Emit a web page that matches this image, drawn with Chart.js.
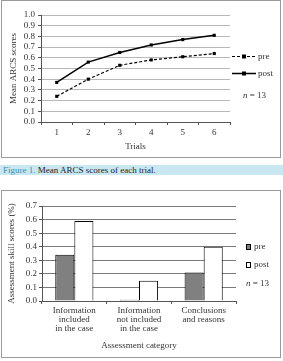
<!DOCTYPE html>
<html><head><meta charset="utf-8">
<script src="https://cdn.jsdelivr.net/npm/chart.js@4.4.1/dist/chart.umd.min.js"></script>
<style>
html,body{margin:0;padding:0;background:#fff;width:283px;height:361px;overflow:hidden;position:relative;font-family:"Liberation Serif","DejaVu Serif",serif;}
.box{position:absolute;left:1px;width:280px;border:1px solid #9a9a9a;box-sizing:border-box;}
#boxA{top:0;height:158px;}
#boxB{top:190px;height:168px;}
canvas{position:absolute;left:0;top:0;}
#cap{position:absolute;left:0;top:165px;width:283px;height:10px;background:#c9e7f0;font-size:9px;line-height:10px;white-space:nowrap;padding-left:3px;box-sizing:border-box;color:#222;}
#cap span{color:#3f8fb0;}
</style></head><body>
<div class="box" id="boxA"><canvas id="c1" width="278" height="156"></canvas></div>
<div id="cap"><span>Figure 1.</span> Mean ARCS scores of each trial.</div>
<div class="box" id="boxB"><canvas id="c2" width="278" height="166"></canvas></div>
<script>
// ---- data ----
const trials = ['1', '2', '3', '4', '5', '6'];
const arcsPre = [0.24, 0.40, 0.53, 0.58, 0.61, 0.64];
const arcsPost = [0.37, 0.56, 0.65, 0.72, 0.77, 0.81];
const categories = [['Information', 'included', 'in the case'], ['Information', 'not included', 'in the case'], ['Conclusions', 'and reasons']];
const skillPre = [0.34, 0.01, 0.21];
const skillPost = [0.59, 0.15, 0.40];
const seriesNames = ['pre', 'post'];
const sampleSize = 13;

const FAM = '"Liberation Serif", "DejaVu Serif", serif';
const TXT = '#333';
const f9 = {family: FAM, size: 9, lineHeight: 1.2};

function drawN(ctx, x, y) {
  ctx.fillStyle = TXT;
  ctx.textBaseline = 'middle';
  ctx.textAlign = 'left';
  ctx.font = 'italic 9px ' + FAM;
  ctx.fillText('n', x, y);
  const w = ctx.measureText('n').width;
  ctx.font = '9px ' + FAM;
  ctx.fillText(' = ' + sampleSize, x + w, y);
}

const lineLegend = {
  id: 'lineLegend',
  afterDraw(chart) {
    const {ctx, chartArea: a} = chart;
    ctx.save();
    chart.data.datasets.forEach((ds, i) => {
      const y = Math.round(a.top + 41 + i * 17) + 0.5;
      const x0 = a.right + 2, x1 = a.right + 26;
      ctx.strokeStyle = '#000';
      ctx.lineWidth = ds.borderWidth;
      ctx.setLineDash(ds.borderDash || []);
      ctx.beginPath(); ctx.moveTo(x0, y); ctx.lineTo(x1, y); ctx.stroke();
      ctx.setLineDash([]);
      ctx.fillStyle = '#000';
      ctx.fillRect((x0 + x1) / 2 - 2, y - 2, 4, 4);
      ctx.fillStyle = TXT;
      ctx.font = '9px ' + FAM;
      ctx.textBaseline = 'middle';
      ctx.fillText(ds.label, x1 + 2, y);
    });
    drawN(ctx, a.right + 13, a.top + 81);
    ctx.restore();
  }
};

const barLegend = {
  id: 'barLegend',
  afterDraw(chart) {
    const {ctx, chartArea: a} = chart;
    ctx.save();
    chart.data.datasets.forEach((ds, i) => {
      const y = Math.round(a.top + 41 + i * 18);
      const x = Math.round(a.right + 10);
      ctx.fillStyle = ds.backgroundColor;
      ctx.fillRect(x, y - 3, 5, 6);
      ctx.strokeStyle = '#000';
      ctx.lineWidth = 1;
      ctx.strokeRect(x + 0.5, y - 2.5, 4, 5);
      ctx.fillStyle = TXT;
      ctx.font = '9px ' + FAM;
      ctx.textBaseline = 'middle';
      ctx.fillText(ds.label, x + 8, y);
    });
    drawN(ctx, a.right + 10, a.top + 78);
    ctx.restore();
  }
};

new Chart(document.getElementById('c1'), {
  type: 'line',
  data: {
    labels: trials,
    datasets: [
      {label: seriesNames[0], data: arcsPre, borderColor: '#000', backgroundColor: '#000', borderWidth: 1.2, borderDash: [3, 2],
       pointStyle: 'rect', pointRadius: 2.2, pointBackgroundColor: '#000', pointBorderWidth: 0, tension: 0},
      {label: seriesNames[1], data: arcsPost, borderColor: '#000', backgroundColor: '#000', borderWidth: 1.5,
       pointStyle: 'rect', pointRadius: 2.2, pointBackgroundColor: '#000', pointBorderWidth: 0, tension: 0}
    ]
  },
  options: {
    responsive: false, animation: false,
    layout: {padding: {top: 14, right: 50, left: 0, bottom: 0}},
    plugins: {legend: {display: false}, tooltip: {enabled: false}},
    scales: {
      x: {
        offset: true,
        grid: {offset: true, drawOnChartArea: false, tickLength: 3, tickColor: '#555'},
        border: {color: '#555'},
        ticks: {padding: 2.6, color: TXT, font: f9},
        title: {display: true, text: 'Trials', color: TXT, font: f9, padding: {top: 0, bottom: 4.6}},
        afterFit(s) { s.height = 35; }
      },
      y: {
        min: 0, max: 1,
        ticks: {stepSize: 0.1, autoSkip: false, padding: 3, color: TXT, font: f9, callback: v => Number(v).toFixed(1)},
        grid: {color: '#b8b8b8', tickColor: '#555', tickLength: 3},
        border: {color: '#555'},
        title: {display: true, text: 'Mean ARCS scores', color: TXT, font: f9, padding: {top: 6.6, bottom: 0}},
        afterFit(s) { s.width = 39; }
      }
    }
  },
  plugins: [lineLegend]
});

new Chart(document.getElementById('c2'), {
  type: 'bar',
  data: {
    labels: categories,
    datasets: [
      {label: seriesNames[0], data: skillPre, backgroundColor: '#808080', borderColor: '#000', borderWidth: 1},
      {label: seriesNames[1], data: skillPost, backgroundColor: '#ffffff', borderColor: '#000', borderWidth: 1}
    ]
  },
  options: {
    responsive: false, animation: false,
    categoryPercentage: 0.59, barPercentage: 1.0,
    layout: {padding: {top: 15, right: 44, left: 0, bottom: 0}},
    plugins: {legend: {display: false}, tooltip: {enabled: false}},
    scales: {
      x: {
        grid: {offset: true, drawOnChartArea: false, tickLength: 3, tickColor: '#555'},
        border: {color: '#555'},
        ticks: {padding: 2.5, color: TXT, font: {family: FAM, size: 9, lineHeight: 1.0}, maxRotation: 0, autoSkip: false},
        title: {display: true, text: 'Assessment category', color: TXT, font: f9, padding: {top: 0, bottom: 5.6}},
        afterFit(s) { s.height = 56; }
      },
      y: {
        min: 0, max: 0.7,
        ticks: {stepSize: 0.1, autoSkip: false, padding: 2, color: TXT, font: f9, callback: v => Number(v).toFixed(1)},
        grid: {color: '#7a7a7a', tickColor: '#555', tickLength: 3},
        border: {color: '#555'},
        title: {display: true, text: 'Assessment skill scores (%)', color: TXT, font: f9, padding: {top: 4.6, bottom: 0}},
        afterFit(s) { s.width = 40; }
      }
    }
  },
  plugins: [barLegend]
});
</script>
</body></html>
